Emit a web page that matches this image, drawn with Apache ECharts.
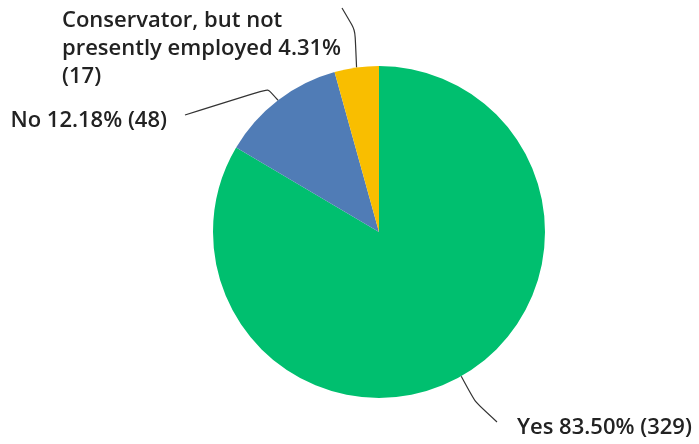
<!DOCTYPE html>
<html>
<head>
<meta charset="utf-8">
<script src="https://cdn.jsdelivr.net/npm/echarts@6/dist/echarts.min.js"></script>
<style>
html,body{margin:0;padding:0;background:#fff;}
#chart{width:699px;height:444px;}
</style>
</head>
<body>
<div id="chart"></div>
<script>
const categories = ['Yes', 'No', 'Conservator, but not presently employed'];
const counts = [329, 48, 17];
const percents = ['83.50%', '12.18%', '4.31%'];
const colors = ['#00BF6F', '#507CB6', '#F9BE00'];

function wrap(text, maxChars) {
  const words = text.split(' ');
  const lines = [];
  let cur = '';
  words.forEach(w => {
    if (!cur) cur = w;
    else if ((cur + ' ' + w).length <= maxChars) cur += ' ' + w;
    else { lines.push(cur); cur = w; }
  });
  if (cur) lines.push(cur);
  return lines.join('\n');
}

const chart = echarts.init(document.getElementById('chart'));
const cx = 379, cy = 232, R = 166;

chart.setOption({
  animation: false,
  series: [{
    type: 'pie',
    center: [cx, cy],
    radius: R,
    startAngle: 90,
    clockwise: true,
    avoidLabelOverlap: false,
    data: categories.map((c, i) => ({ name: c, value: counts[i], itemStyle: { color: colors[i] } })),
    label: {
      show: true,
      position: 'outside',
      fontFamily: 'Open Sans',
      fontWeight: 600,
      fontSize: 22,
      lineHeight: 28,
      color: '#222',
      formatter: p => wrap(p.name + ' ' + percents[p.dataIndex] + ' (' + counts[p.dataIndex] + ')', 25)
    },
    labelLine: {
      show: true,
      smooth: 0.15,
      lineStyle: { color: '#333', width: 1.2 }
    },
    labelLayout: function (params) {
      const a = params.labelLinePoints ? params.labelLinePoints[0] : [cx, cy];
      const i = params.dataIndex;
      if (i === 0) {
        return {
          x: 517, y: 428, align: 'left', verticalAlign: 'middle',
          labelLinePoints: [a, [a[0] + 14, a[1] + 26], [497, 422]]
        };
      } else if (i === 1) {
        return {
          x: 167, y: 121, align: 'right', verticalAlign: 'middle',
          labelLinePoints: [a, [268, 89], [185, 115]]
        };
      } else {
        return {
          x: 62, y: 49, align: 'left', verticalAlign: 'middle',
          labelLinePoints: [a, [355, 30], [342, 8]]
        };
      }
    }
  }]
});
</script>
</body>
</html>
